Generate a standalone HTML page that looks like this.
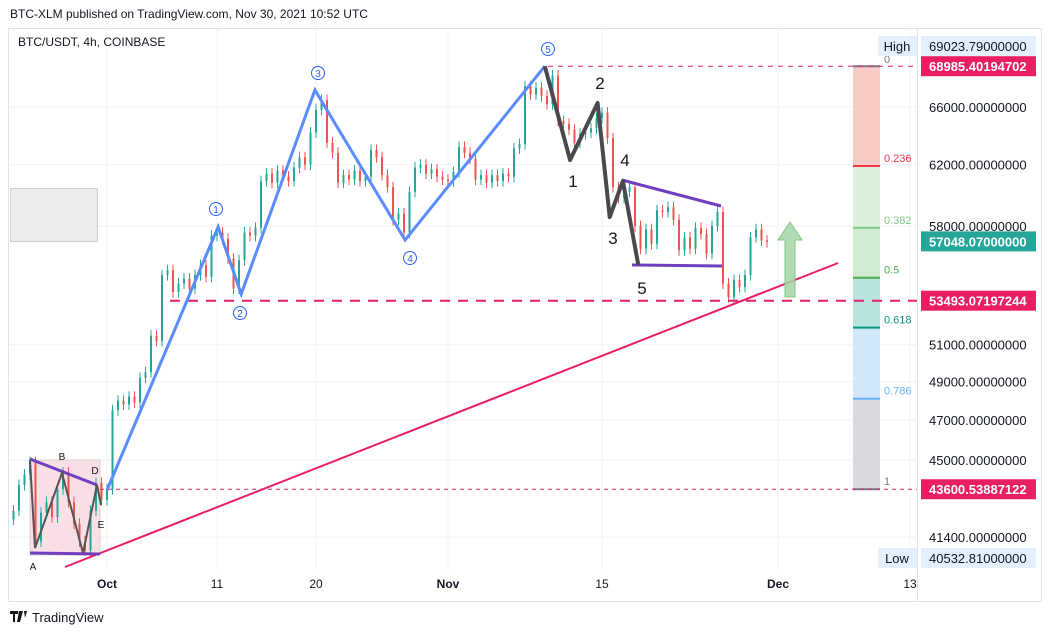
<!DOCTYPE html>
<html><head><meta charset="utf-8"><style>
html,body{margin:0;padding:0;background:#fff;width:1052px;height:635px;overflow:hidden;font-family:"Liberation Sans",sans-serif}
</style></head><body>
<svg id="c" width="1052" height="635" xmlns="http://www.w3.org/2000/svg" font-family="Liberation Sans, sans-serif">
<text x="10" y="18" font-size="12" fill="#131722">BTC-XLM published on TradingView.com, Nov 30, 2021 10:52 UTC</text>
<rect x="8.5" y="28.5" width="1033" height="573" fill="#fff" stroke="#e0e3eb"/>
<g id="grid"></g>
<line x1="917.5" y1="29" x2="917.5" y2="601" stroke="#e0e3eb"/>
<text x="18" y="46" font-size="12" fill="#131722">BTC/USDT, 4h, COINBASE</text>
<rect x="10.5" y="188.5" width="87" height="53" fill="#ececec" stroke="#d0d0d0"/>
<rect x="30" y="460" width="70" height="95" fill="#f9dfe6" stroke="#d8d0c8"/>
<g id="fib"></g>
<g id="candles"></g>
<g id="draw"></g>
<g id="axis"></g>
<g id="taxis"></g>
<g>
<path d="M10 611h8v3h-3v8h-2v-8h-3z M19 611h4l-3 11h-3z M24 611h3l-2 7z" fill="#131722"/>
<text x="32" y="622" font-size="13" fill="#131722">TradingView</text></g>
</svg>
<script>
const NS='http://www.w3.org/2000/svg';
// ---- data ----
const closes=[42.6,43.8,44.3,44.9,41.2,42.5,43.0,42.3,43.6,44.4,43.0,42.0,41.2,40.8,42.6,43.9,43.1,43.6,
47.5,48.0,47.8,48.2,47.9,49.2,49.5,51.5,51.2,55.0,55.3,54.0,54.5,54.8,54.2,55.0,55.6,54.9,57.4,57.6,
57.2,56.0,54.2,55.9,
57.6,57.4,57.9,60.9,61.4,60.8,61.6,61.2,60.9,61.8,62.5,62.0,64.2,65.8,
66.5,63.5,62.8,60.8,61.3,61.0,61.6,60.9,61.2,63.0,62.5,61.3,60.5,58.4,58.8,57.6,60.2,
61.8,62.0,61.4,61.7,61.2,61.0,60.9,61.5,63.2,62.8,62.4,61.0,61.3,60.8,61.3,60.9,61.4,61.2,63.1,63.4,67.5,66.9,67.4,66.8,66.2,68.3,
65.0,64.8,64.4,63.5,64.1,64.2,64.5,65.2,65.6,63.8,
60.5,59.8,60.2,60.5,58.0,56.6,57.8,56.9,59.0,58.9,59.2,58.4,56.5,57.3,56.6,57.9,57.5,56.3,58.0,58.9,54.5,53.7,54.7,54.3,55.0,57.3,57.8,57.1,57.0];
const startDay=-8.5; // days relative to Oct 1
const priceTicks=[66000,62000,58000,51000,49000,47000,45000,41400];
const tickLabels=['66000.00000000','62000.00000000','58000.00000000','51000.00000000','49000.00000000','47000.00000000','45000.00000000','41400.00000000'];
const dateTicks=[0,10,19,31,45,61,73];
const dateLabels=['Oct','11','20','Nov','15','Dec','13'];
const waveDays=[0,10.1,12.2,18.9,27.1,39.8];
const wavePrices=[43560,57950,53880,67230,57130,68985];
const blackDays=[39.8,42.1,44.6,45.7,46.9,48.3];
const blackPrices=[68985,62310,66290,58570,60910,55610];
const fibLevels=[0,0.236,0.382,0.5,0.618,0.786,1];
const fibHigh=68985.40194702, fibLow=43600.53887122;
// ---- scales ----
const X=d=>107+d*11.0;
const Y=p=>107+(Math.log(66000)-Math.log(p))*922;
function mk(tag,attrs,parent,txt){const e=document.createElementNS(NS,tag);for(const k in attrs)e.setAttribute(k,attrs[k]);if(txt!==undefined)e.textContent=txt;document.getElementById(parent).appendChild(e);return e;}
// grid
priceTicks.forEach(p=>{const l=mk('line',{x1:9,x2:917,y1:Y(p),y2:Y(p),stroke:'#f0f3fa'},'grid');

});
dateTicks.forEach(d=>{const l=mk('line',{x1:X(d),x2:X(d),y1:29,y2:570,stroke:'#f0f3fa'},'grid');

});
// candles
closes.forEach((c,i)=>{const o=i?closes[i-1]:c-0.4;const x=X(startDay+i*0.5);const up=c>=o;const col=up?'#26a69a':'#ef5350';
const hi=Math.max(o,c)*1e3*1.006,lo=Math.min(o,c)*1e3*0.994;
const w=mk('line',{x1:x,x2:x,y1:Y(hi),y2:Y(lo),stroke:col,'stroke-width':1},'candles');


const yt=Y(Math.max(o,c)*1e3),yb=Y(Math.min(o,c)*1e3);
const b=mk('rect',{x:x-1,y:yt,width:2,height:Math.max(1,yb-yt),fill:col},'candles');

});
// fib
const fy=l=>Y(Math.exp(Math.log(fibHigh)-l*(Math.log(fibHigh)-Math.log(fibLow))));
const fills=['#f9cbc7','#ddf0dc','#d3ebd1','#b9e3de','#d3e7fb','#d9d9de'];
const lcol=['#787b86','#f23645','#81c784','#4caf50','#089981','#64b5f6','#787b86'];
for(let i=0;i<6;i++){const r=mk('rect',{x:853,y:fy(fibLevels[i]),width:27,height:fy(fibLevels[i+1])-fy(fibLevels[i]),fill:fills[i]},'fib');

}
fibLevels.forEach((l,i)=>{const y=fy(l);const ln=mk('line',{x1:853,x2:880,y1:y,y2:y,stroke:lcol[i],'stroke-width':2},'fib');


const t=mk('text',{x:884,y:l===0?y-3:y-4,'font-size':11,fill:lcol[i]},'fib',String(l));

});
// dashed lines
[[548,fibHigh,'5,5',1],[170,53493,'10,8',2],[100,fibLow,'4,4',1]].forEach(a=>{const l=mk('line',{x1:a[0],x2:917,y1:Y(a[1]),y2:Y(a[1]),stroke:'#e91e63','stroke-dasharray':a[2],'stroke-width':a[3]},'draw');

});
// trendline
let tl=mk('line',{x1:65,y1:567,x2:838,y2:263,stroke:'#e91e63','stroke-width':2},'draw');


// purple lines
[[30,459,97,485],[30,553,100,554],[622,180,721,206],[632,265,722,266]].forEach(a=>{const l=mk('line',{x1:a[0],y1:a[1],x2:a[2],y2:a[3],stroke:'#6f3fbf','stroke-width':3},'draw');

});
// abcde zigzag
let z=mk('polyline',{points:'30,460 35,548 62,473 83,553 97,485 101,505',fill:'none',stroke:'#555','stroke-width':2},'draw');


// waves
let wp=mk('polyline',{points:waveDays.map((d,i)=>X(d)+','+Y(wavePrices[i])).join(' '),fill:'none',stroke:'#5b8cff','stroke-width':3},'draw');


let bp=mk('polyline',{points:blackDays.map((d,i)=>X(d)+','+Y(blackPrices[i])).join(' '),fill:'none',stroke:'#4a4a4e','stroke-width':4,'stroke-linejoin':'round'},'draw');


// wave labels
[['1',216,209],['2',240,313],['3',318,73],['4',410,258],['5',548,49]].forEach(a=>{const c=mk('circle',{cx:a[1],cy:a[2],r:6.5,fill:'#fff',stroke:'#2962ff'},'draw');


const t=mk('text',{x:a[1],y:a[2]+4,'font-size':10,fill:'#2962ff','text-anchor':'middle'},'draw',a[0]);

});
[['1',573,187],['2',600,89],['3',613,244],['4',625,166],['5',642,294]].forEach(a=>{const t=mk('text',{x:a[1],y:a[2],'font-size':17,fill:'#131722','text-anchor':'middle'},'draw',a[0]);

});
[['B',62,460],['D',95,474],['E',101,528],['A',33,570]].forEach(a=>{const t=mk('text',{x:a[1],y:a[2],'font-size':10,fill:'#131722','text-anchor':'middle'},'draw',a[0]);

});
// arrow
let ar=mk('path',{d:'M790 222 L802 240 L795 240 L795 297 L785 297 L785 240 L778 240 Z',fill:'#a5d6a7',stroke:'#81c784','fill-opacity':0.85},'draw');


// price axis
priceTicks.forEach((p,i)=>{const t=mk('text',{x:929,y:Y(p)+5,'font-size':13,fill:'#131722'},'axis',tickLabels[i]);

});
function tag(y,txt,bg,fg){const r=mk('rect',{x:921,y:y-10,width:115,height:20,fill:bg},'axis');


const t=mk('text',{x:929,y:y+5,'font-size':13,fill:fg,'font-weight':fg==='#fff'?'bold':'normal'},'axis',txt);

}
tag(46,'69023.79000000','#e3effd','#131722');
tag(558,'40532.81000000','#e3effd','#131722');
tag(Y(fibHigh),'68985.40194702','#e91e63','#fff');
tag(Y(57048),'57048.07000000','#26a69a','#fff');
tag(Y(53493),'53493.07197244','#e91e63','#fff');
tag(Y(fibLow),'43600.53887122','#e91e63','#fff');
[['High',36],['Low',548]].forEach(a=>{const r=mk('rect',{x:878,y:a[1],width:39,height:20,fill:'#e3effd'},'axis');


const t=mk('text',{x:897,y:a[1]+15,'font-size':13,fill:'#131722','text-anchor':'middle'},'axis',a[0]);

});
// time axis
dateTicks.forEach((d,i)=>{const t=mk('text',{x:X(d),y:588,'font-size':12,fill:'#131722','text-anchor':'middle','font-weight':(i===0||i===3||i===5)?'bold':'normal'},'taxis',dateLabels[i]);

});
</script>
</body></html>
